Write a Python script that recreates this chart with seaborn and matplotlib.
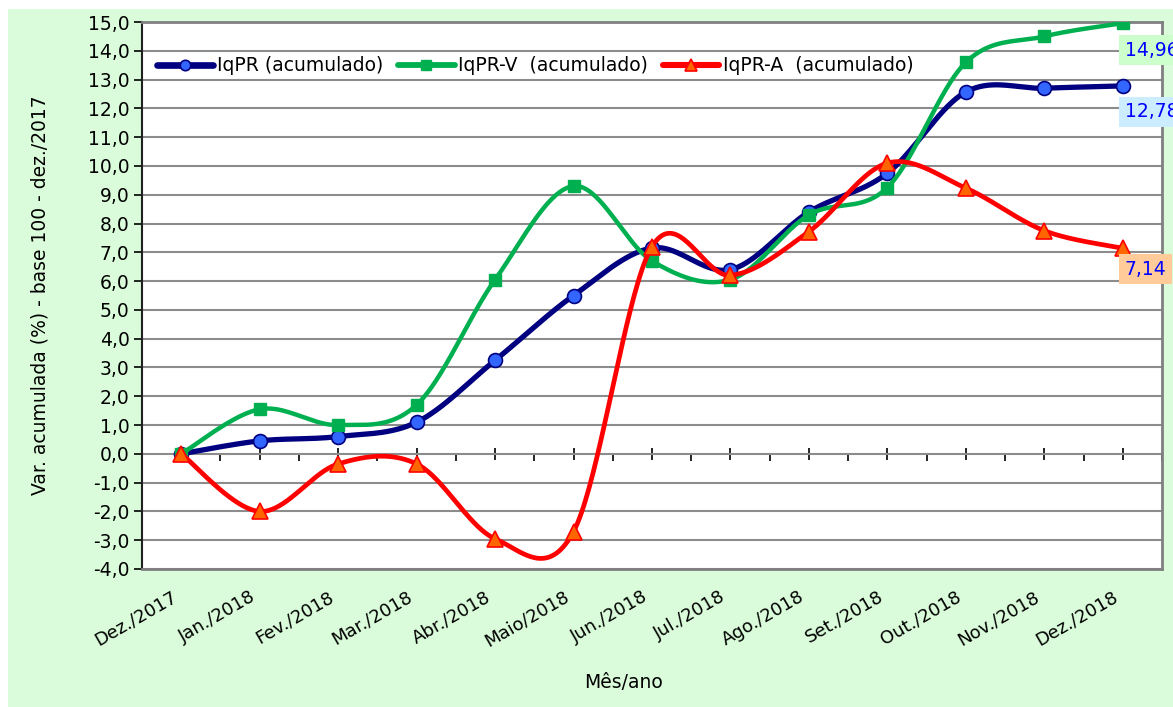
import numpy as np
import pandas as pd
import matplotlib
matplotlib.use("Agg")
import matplotlib.pyplot as plt
import seaborn as sns
from matplotlib.lines import Line2D
from matplotlib.patches import Rectangle
from matplotlib.ticker import FuncFormatter, MultipleLocator
from matplotlib.transforms import ScaledTranslation

# dados
meses = ["Dez./2017", "Jan./2018", "Fev./2018", "Mar./2018", "Abr./2018", "Maio/2018",
         "Jun./2018", "Jul./2018", "Ago./2018", "Set./2018", "Out./2018", "Nov./2018", "Dez./2018"]
iqpr = [0.0, 0.45, 0.60, 1.10, 3.25, 5.50, 7.15, 6.40, 8.40, 9.75, 12.57, 12.70, 12.78]
iqpr_v = [0.0, 1.55, 1.00, 1.70, 6.05, 9.30, 6.70, 6.05, 8.30, 9.25, 13.60, 14.50, 14.96]
iqpr_a = [0.0, -2.00, -0.35, -0.35, -2.95, -2.70, 7.20, 6.20, 7.72, 10.10, 9.23, 7.75, 7.14]
rotulos = ["IqPR (acumulado)", "IqPR-V  (acumulado)", "IqPR-A  (acumulado)"]
finais = ["12,78", "14,96", "7,14"]


def suaviza(y, n=40):
    # curva suavizada tipo Excel (bezier / catmull-rom)
    y = np.asarray(y, float)
    x = np.arange(len(y), dtype=float)
    px = np.r_[x[0], x, x[-1]]
    py = np.r_[y[0], y, y[-1]]
    t = np.linspace(0, 1, n, endpoint=False)[:, None]
    out = []
    for i in range(len(y) - 1):
        p0 = np.array([px[i], py[i]])
        p1 = np.array([px[i + 1], py[i + 1]])
        p2 = np.array([px[i + 2], py[i + 2]])
        p3 = np.array([px[i + 3], py[i + 3]])
        c1 = p1 + (p2 - p0) / 6
        c2 = p2 - (p3 - p1) / 6
        seg = ((1 - t) ** 3) * p1 + 3 * ((1 - t) ** 2) * t * c1 + 3 * (1 - t) * t ** 2 * c2 + t ** 3 * p2
        out.append(seg)
    out.append(np.array([[x[-1], y[-1]]]))
    out = np.vstack(out)
    return pd.DataFrame({"x": out[:, 0], "y": out[:, 1]})


sns.set_style("white")
plt.rcParams['font.family'] = ['DejaVu Sans']
plt.rcParams['text.color'] = 'black'
plt.rcParams['axes.labelcolor'] = 'black'
plt.rcParams['xtick.color'] = 'black'
plt.rcParams['ytick.color'] = 'black'

fig = plt.figure(figsize=(11.73, 7.07), dpi=100, facecolor="white")
fundo = Rectangle((8 / 1173, 0), 1, 1 - 9 / 707, transform=fig.transFigure,
                  facecolor="#DAFCDA", edgecolor="none", zorder=-10)
fig.add_artist(fundo)
ax = fig.add_axes([142 / 1173, 1 - 569 / 707, 1020 / 1173, 547 / 707])
ax.set_facecolor("white")

series = [
    (iqpr, "#000080", 3.8, dict(marker="o", ms=10, mfc="#3366FF", mec="#000080", mew=1.2)),
    (iqpr_v, "#00B050", 3.2, dict(marker="s", ms=9, mfc="#00B050", mec="#00B050", mew=1)),
    (iqpr_a, "#FF0000", 3.4, dict(marker="^", ms=11, mfc="#FF6600", mec="#FF0000", mew=1.2)),
]

handles = []
for k, (vals, cor, lw, mk) in enumerate(series):
    sns.lineplot(data=suaviza(vals), x="x", y="y", sort=False, color=cor, lw=lw,
                 ax=ax, zorder=3 + k)
    ax.plot(range(len(vals)), vals, ls="none", zorder=3.5 + k, **mk)
    mk_leg = dict(mk, ms=mk["ms"] * 0.75)
    handles.append(Line2D([], [], color=cor, lw=lw + 1.0, **mk_leg))

ax.set_xlim(-0.5, 12.5)
ax.set_ylim(-4, 15)
ax.yaxis.set_major_locator(MultipleLocator(1))
ax.yaxis.set_major_formatter(FuncFormatter(lambda v, p: f"{v:.1f}".replace(".", ",")))
ax.grid(axis="y", color="#8C8C8C", lw=1.5)
ax.grid(axis="x", visible=False)
ax.set_axisbelow(True)

ax.set_xticks(range(len(meses)))
ax.set_xticklabels(meses, rotation=30, ha="right", va="center", rotation_mode="anchor")
ax.tick_params(axis="x", length=0, pad=19, labelsize=13)
ax.tick_params(axis="y", direction="out", length=6, width=1.2, color="black", labelsize=13.5, pad=3, left=True)
desl = ScaledTranslation(-6 / 100, 0, fig.dpi_scale_trans)
for lab in ax.get_xticklabels():
    lab.set_transform(lab.get_transform() + desl)

# eixo das categorias no zero
sec = ax.secondary_xaxis(4 / 19)
sec.set_xticks(range(len(meses)))
sec.set_xticklabels([])
sec.set_xticks(np.arange(-0.5, 12.6, 1.0), minor=True)
sec.tick_params(axis="x", which="major", direction="inout", length=9, width=1.2, color="black")
sec.tick_params(axis="x", which="minor", direction="out", length=5, width=1.2, color="black")
sec.spines["bottom"].set_color("black")
sec.spines["bottom"].set_linewidth(1.3)

for lado in ["top", "right", "bottom"]:
    ax.spines[lado].set_color("#808080")
    ax.spines[lado].set_linewidth(2)
ax.spines["left"].set_color("#202020")
ax.spines["left"].set_linewidth(1.5)

ax.set_xlabel("Mês/ano", fontsize=13.5)
ax.xaxis.set_label_coords((624 - 142) / 1020, -0.19)
ax.set_ylabel("Var. acumulada (%) - base 100 - dez./2017", fontsize=13.5, va="center")
ax.yaxis.set_label_coords((40 - 142) / 1020, 0.5)

leg = ax.legend(handles, rotulos, loc="center left", bbox_to_anchor=(0.0, 0.92), ncol=3,
                frameon=False, fontsize=13.5, handlelength=3.0, handletextpad=0.2,
                columnspacing=0.8, borderaxespad=0.4)

caixas = ["#CCECFF", "#CCFFCC", "#FFCC99"]
desloc = [-26, -27, -21]
for (vals, _, _, _), txt, fc, dy in zip(series, finais, caixas, desloc):
    ax.annotate(txt, xy=(12, vals[-1]), xytext=(2, dy), textcoords="offset pixels",
                ha="left", va="center", fontsize=13.5, color="#0000FF",
                bbox=dict(boxstyle="square,pad=0.3", fc=fc, ec="none"),
                annotation_clip=False, zorder=10)

fig.savefig("out.png", dpi=100, facecolor=fig.get_facecolor())
